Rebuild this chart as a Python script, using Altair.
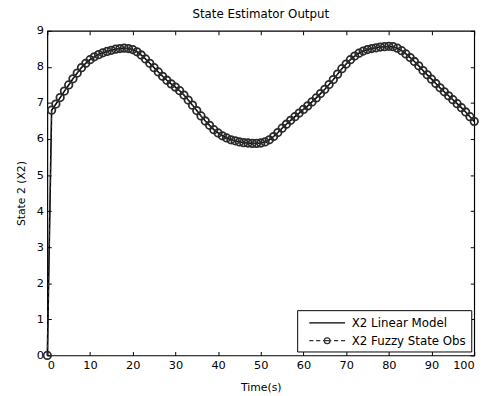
import altair as alt
import pandas as pd

# ---- data ----
time_s = list(range(101))
x2_values = [
    0.00, 6.80, 6.97, 7.15, 7.33, 7.50, 7.67, 7.83, 7.98, 8.10,
    8.20, 8.28, 8.34, 8.39, 8.43, 8.46, 8.49, 8.51, 8.52, 8.51,
    8.48, 8.42, 8.33, 8.22, 8.10, 7.98, 7.86, 7.74, 7.63, 7.53,
    7.44, 7.34, 7.22, 7.08, 6.94, 6.79, 6.64, 6.50, 6.38, 6.26,
    6.17, 6.09, 6.03, 5.98, 5.95, 5.92, 5.90, 5.89, 5.88, 5.88,
    5.89, 5.92, 5.98, 6.07, 6.18, 6.30, 6.41, 6.52, 6.62, 6.72,
    6.82, 6.92, 7.03, 7.14, 7.26, 7.38, 7.51, 7.65, 7.80, 7.95,
    8.08, 8.20, 8.30, 8.38, 8.44, 8.48, 8.51, 8.53, 8.55, 8.56,
    8.57, 8.56, 8.52, 8.45, 8.36, 8.26, 8.15, 8.03, 7.90, 7.78,
    7.66, 7.54, 7.42, 7.31, 7.20, 7.09, 6.98, 6.87, 6.75, 6.62,
    6.49,
]
linear_model = x2_values
fuzzy_obs = x2_values
series_names = ["X2 Linear Model", "X2 Fuzzy State Obs"]
x_ticks = list(range(0, 101, 10))
y_ticks = list(range(0, 10))

FONT = "DejaVu Sans"

df = pd.DataFrame(
    {
        "t": time_s * 2,
        "v": linear_model + fuzzy_obs,
        "series": [series_names[0]] * len(time_s) + [series_names[1]] * len(time_s),
    }
)
lin = df[df.series == series_names[0]]
fuz = df[df.series == series_names[1]]

xs = alt.Scale(domain=[0, 100], nice=False)
ys = alt.Scale(domain=[0, 9], nice=False)

def ax(orient, values, labels=True, title=None, title_pad=4):
    kw = dict(
        orient=orient, values=values, grid=False, domain=False,
        tickSize=4, offset=-4, tickColor="black", tickWidth=1,
        labels=labels, labelFont=FONT, labelFontSize=11.5, labelColor="black",
        labelPadding=4, titleFont=FONT, titleFontSize=11, titleColor="black",
        titleFontWeight="normal", titlePadding=title_pad,
    )
    kw["title"] = title
    return alt.Axis(**kw)

line_layer = alt.Chart(lin).mark_line(color="black", strokeWidth=1.6).encode(
    x=alt.X("t:Q", scale=xs, axis=ax("bottom", x_ticks, title="Time(s)", title_pad=11)),
    y=alt.Y("v:Q", scale=ys, axis=ax("left", y_ticks, title="State 2 (X2)", title_pad=10)),
)

dash_layer = alt.Chart(fuz).mark_line(
    color="#333333", strokeWidth=1, strokeDash=[4, 3]
).encode(
    x=alt.X("t:Q", scale=xs, axis=ax("top", x_ticks, labels=False)),
    y=alt.Y("v:Q", scale=ys, axis=ax("right", y_ticks, labels=False)),
)

point_layer = alt.Chart(fuz).mark_point(
    shape="circle", filled=False, color="#2a2a2a", size=58, strokeWidth=1.8, opacity=1
).encode(
    x=alt.X("t:Q", scale=xs, axis=None),
    y=alt.Y("v:Q", scale=ys, axis=None),
)

line_sym = "M-2.6,0H2.6"
fuzzy_sym = (
    "M-2.6,0H-2.0M-1.6,0H-1.0M-0.6,0H0.6M1.0,0H1.6M2.0,0H2.6"
    "M0.42,0A0.42,0.42,0,1,1,-0.42,0A0.42,0.42,0,1,1,0.42,0"
)

legend_layer = alt.Chart(df).transform_filter("false").mark_point(filled=False).encode(
    shape=alt.Shape(
        "series:N",
        scale=alt.Scale(domain=series_names, range=[line_sym, fuzzy_sym]),
        legend=alt.Legend(title=None),
    ),
    color=alt.Color(
        "series:N",
        scale=alt.Scale(domain=series_names, range=["black", "#333333"]),
        legend=alt.Legend(title=None),
    ),
)

chart = (
    alt.layer(line_layer, dash_layer, point_layer, legend_layer)
    .resolve_axis(x="independent", y="independent")
    .properties(
        width=434,
        height=330,
        title=alt.TitleParams(
            "State Estimator Output", font=FONT, fontSize=12, fontWeight="normal",
            color="black", anchor="middle", offset=4, frame="group",
        ),
        autosize=alt.AutoSizeParams(type="none"),
        padding={"left": 40, "top": 20, "right": 13, "bottom": 36},
    )
    .configure_view(stroke="black", strokeWidth=1.2)
    .configure_legend(
        orient="none", legendX=254, legendY=284,
        strokeColor="black", fillColor="white", padding=5,
        rowPadding=4, symbolSize=196, symbolStrokeWidth=1.3, symbolOpacity=1,
        symbolOffset=17.5, labelOffset=17, labelFont=FONT, labelFontSize=12,
        labelColor="black", cornerRadius=0,
    )
)

chart.save("out.html", embed_options={"renderer": "svg", "actions": False})
